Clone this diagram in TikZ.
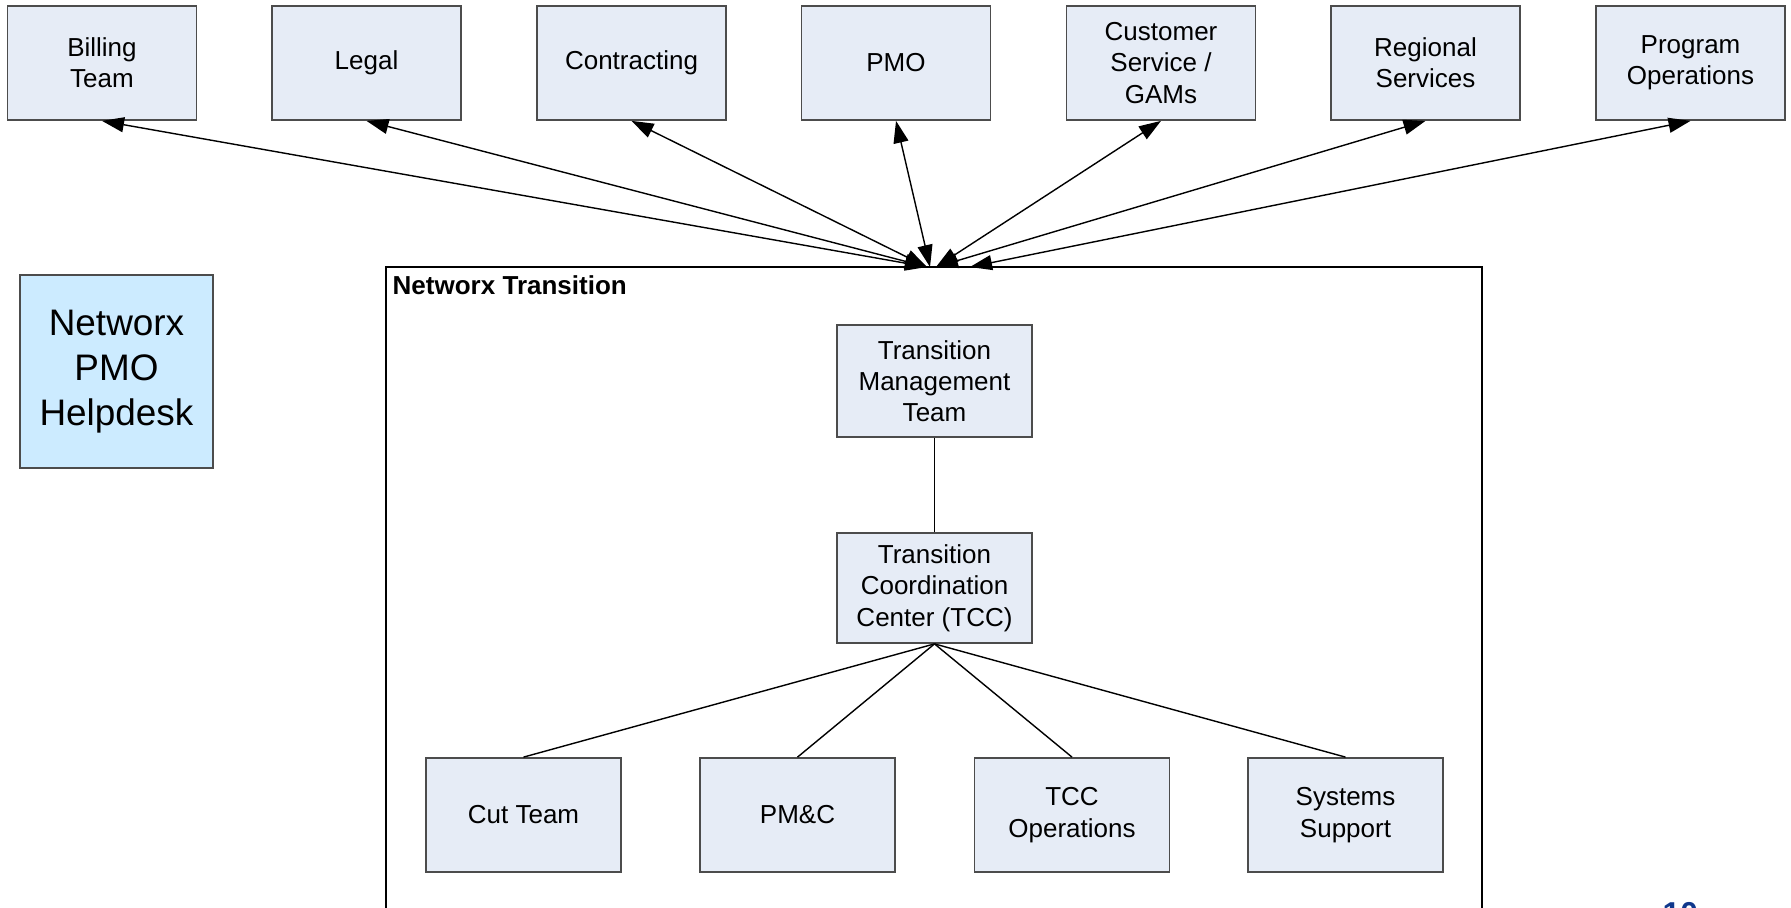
\documentclass[tikz,border=0pt]{standalone}
\usepackage{fontspec}
\setmainfont{Liberation Sans}
\usetikzlibrary{arrows.meta}

\definecolor{boxfill}{RGB}{230,236,246}
\definecolor{deskfill}{RGB}{204,235,255}
\definecolor{pagenum}{RGB}{16,56,140}

\tikzset{
	unit/.style={draw=black!70, fill=boxfill, line width=0.5pt,
		minimum width=1.89cm, minimum height=1.14cm, inner sep=1pt,
		align=center, font=\fontsize{7.4}{8.9}\selectfont},
	link/.style={draw=black, line width=0.4pt},
	comm/.style={link, {Triangle[length=0.22cm,width=0.15cm]}-{Triangle[length=0.22cm,width=0.15cm]}},
}

\begin{document}
\begin{tikzpicture}
		\useasboundingbox (0,0) rectangle (17.91,-9.07);
		\clip (0,0) rectangle (17.91,-9.07);

		% the groups along the top
		\node[unit] (billing)  at ( 1.02,-0.63) {Billing\\Team};
		\node[unit] (legal)    at ( 3.665,-0.63) {Legal};
		\node[unit] (contract) at ( 6.315,-0.63) {Contracting};
		\node[unit] (pmo)      at ( 8.96,-0.63) {PMO};
		\node[unit] (custsvc)  at (11.61,-0.63) {Customer\\Service /\\GAMs};
		\node[unit] (regional) at (14.255,-0.63) {Regional\\Services};
		\node[unit] (progops)  at (16.905,-0.63) {Program\\Operations};

		\node[unit, fill=deskfill, minimum width=1.93cm, minimum height=1.93cm,
			font=\fontsize{10.5}{12.7}\selectfont] (helpdesk) at (1.165,-3.715) {Networx\\PMO\\Helpdesk};

		% transition frame, runs off the bottom
		\draw[line width=0.6pt] (3.86,-2.67) rectangle (14.82,-9.5);
		\node[anchor=base west, inner sep=0pt, font=\bfseries\fontsize{7.4}{8.9}\selectfont]
			(frametitle) at (3.92,-2.94) {Networx Transition};

		\coordinate (hubL) at (9.27,-2.67);
		\coordinate (hubM) at (9.30,-2.67);
		\coordinate (hubR) at (9.36,-2.67);
		\coordinate (hubP) at (9.70,-2.67);

		\node[unit, minimum width=1.95cm, minimum height=1.12cm] (tmt) at (9.345,-3.81) {Transition\\Management\\Team};
		\node[unit, minimum width=1.95cm, minimum height=1.10cm] (tcc) at (9.345,-5.88) {Transition\\Coordination\\Center (TCC)};

		\node[unit, minimum width=1.95cm] (cut)     at ( 5.235,-8.15) {Cut Team};
		\node[unit, minimum width=1.95cm] (pmc)     at ( 7.975,-8.15) {PM\&C};
		\node[unit, minimum width=1.95cm] (tccops)  at (10.72,-8.15) {TCC\\Operations};
		\node[unit, minimum width=1.95cm] (syssupp) at (13.455,-8.15) {Systems\\Support};

		% two way links to the frame
		\draw[comm] (billing.south)  -- (hubL);
		\draw[comm] (legal.south)    -- (hubL);
		\draw[comm] (contract.south) -- (hubL);
		\draw[comm] (pmo.south)      -- (hubM);
		\draw[comm] (custsvc.south)  -- (hubR);
		\draw[comm] (regional.south) -- (hubR);
		\draw[comm] (progops.south)  -- (hubP);

		\draw[link] (tmt.south) -- (tcc.north);
		\draw[link] (tcc.south) -- (cut.north);
		\draw[link] (tcc.south) -- (pmc.north);
		\draw[link] (tcc.south) -- (tccops.north);
		\draw[link] (tcc.south) -- (syssupp.north);

		\node[anchor=north west, inner sep=0pt, text=pagenum,
			font=\bfseries\fontsize{9}{10}\selectfont] (pageno) at (16.62,-9.02) {10};

	\end{tikzpicture}
\end{document}
